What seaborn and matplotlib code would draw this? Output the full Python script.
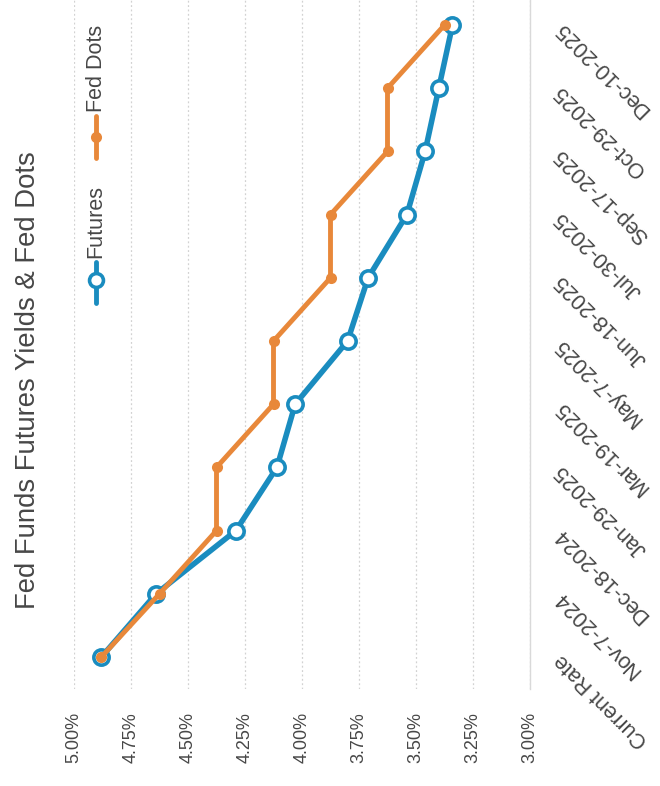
import matplotlib
matplotlib.use("Agg")
import matplotlib.pyplot as plt
from matplotlib.lines import Line2D
from matplotlib.ticker import FuncFormatter, FixedLocator
import seaborn as sns
import pandas as pd

# Meeting dates (category axis)
meetings = ["Current Rate", "Nov-7-2024", "Dec-18-2024", "Jan-29-2025", "Mar-19-2025",
            "May-7-2025", "Jun-18-2025", "Jul-30-2025", "Sep-17-2025", "Oct-29-2025",
            "Dec-10-2025"]
# Implied policy rate from fed funds futures (%)
futures = [4.88, 4.64, 4.29, 4.11, 4.03, 3.80, 3.71, 3.54, 3.46, 3.40, 3.34]
# FOMC dot-plot median path (%)
fed_dots = [4.88, 4.625, 4.375, 4.375, 4.125, 4.125, 3.875, 3.875, 3.625, 3.625, 3.375]
# Value-axis ticks (%)
rate_ticks = [5.00, 4.75, 4.50, 4.25, 4.00, 3.75, 3.50, 3.25, 3.00]

title = "Fed Funds Futures Yields & Fed Dots"

BLUE = "#1A8CBF"
ORANGE = "#E8883A"
TEXT = "#474747"

sns.set_theme(style="white")
plt.rcParams["font.family"] = ["Liberation Sans", "DejaVu Sans"]

df = pd.DataFrame({
    "pos": list(range(len(meetings))) * 2,
    "rate": futures + fed_dots,
    "series": ["Futures"] * len(meetings) + ["Fed Dots"] * len(meetings),
})

fig = plt.figure(figsize=(6.6, 7.86), dpi=100)
W, H = 660, 786
ax = fig.add_axes([74 / W, 1 - 688.6 / H, 456 / W, 695.2 / H])

# The chart is laid out turned a quarter turn: rates run left to right, meetings bottom to top
sns.lineplot(data=df[df.series == "Futures"], x="rate", y="pos", orient="y", sort=False,
             estimator=None, ax=ax, color=BLUE, lw=4, marker="o", markersize=11,
             markerfacecolor="white", markeredgecolor=BLUE, markeredgewidth=2.6, zorder=3)
sns.lineplot(data=df[df.series == "Fed Dots"], x="rate", y="pos", orient="y", sort=False,
             estimator=None, ax=ax, color=ORANGE, lw=3.5, marker="o", markersize=8,
             markerfacecolor=ORANGE, markeredgecolor=ORANGE, markeredgewidth=0, zorder=4)

ax.set_xlim(5.00, 3.00)
ax.set_ylim(-0.5, len(meetings) - 0.5)
ax.set_xlabel("")
ax.set_ylabel("")

ax.xaxis.set_major_locator(FixedLocator(rate_ticks))
ax.xaxis.set_major_formatter(FuncFormatter(lambda v, _: f"{v:.2f}%"))
ax.grid(axis="x", color="#d2d2d2", lw=0.9, ls=(0, (1.5, 2)))
ax.grid(axis="y", visible=False)
ax.tick_params(axis="x", length=0, pad=17, labelsize=13, labelcolor=TEXT, labelrotation=90)
for lbl in ax.get_xticklabels():
    lbl.set_va("top")
    lbl.set_ha("center")

ax.yaxis.tick_right()
ax.set_yticks(range(len(meetings)))
ax.set_yticklabels(meetings)
ax.tick_params(axis="y", length=0, pad=20, labelsize=15.5, labelcolor=TEXT)
for lbl in ax.get_yticklabels():
    lbl.set_rotation(135)
    lbl.set_rotation_mode("anchor")
    lbl.set_ha("right")
    lbl.set_va("center")

for side in ["top", "bottom", "left"]:
    ax.spines[side].set_visible(False)
ax.spines["right"].set_color("#d9d9d9")
ax.spines["right"].set_linewidth(1)

# Title along the left edge
fig.text(28 / W, 1 - 380 / H, title, rotation=90, ha="center", va="center",
         fontsize=19.8, color=TEXT)

# Legend entries, drawn turned like the rest of the chart
def legend_entry(x, y0, y1, ym, color, marker_kw, label, ty):
    fig.add_artist(Line2D([x / W, x / W], [1 - y0 / H, 1 - y1 / H], color=color, lw=3.5,
                          transform=fig.transFigure))
    fig.add_artist(Line2D([x / W], [1 - ym / H], transform=fig.transFigure, marker="o",
                          **marker_kw))
    fig.text(x / W, 1 - ty / H, label, rotation=90, ha="center", va="bottom",
             fontsize=15.5, color=TEXT)

legend_entry(96, 303, 262, 280, BLUE,
             dict(markersize=10, markerfacecolor="white", markeredgecolor=BLUE,
                  markeredgewidth=2.6), "Futures", 258)
legend_entry(96, 158, 116, 137, ORANGE,
             dict(markersize=8, markerfacecolor=ORANGE, markeredgecolor=ORANGE,
                  markeredgewidth=0), "Fed Dots", 112)

fig.savefig("out.png", dpi=100, facecolor="white")
